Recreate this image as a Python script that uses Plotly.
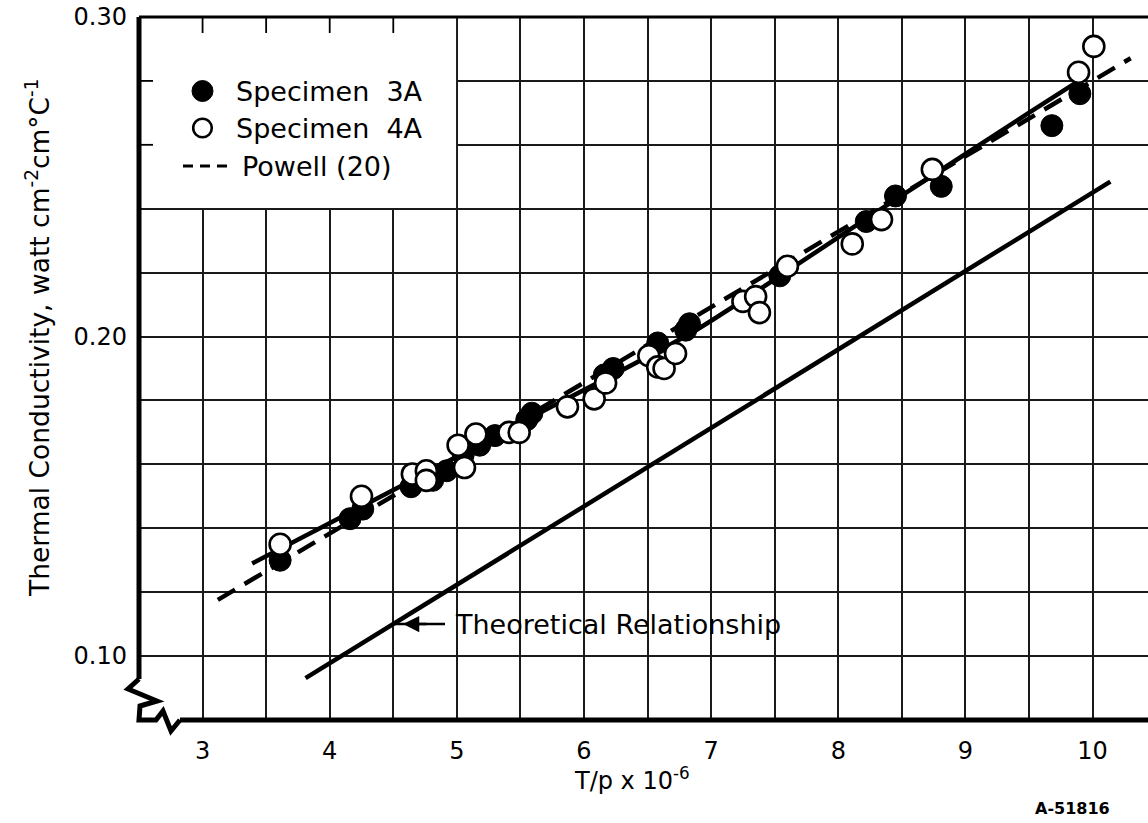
import plotly.graph_objects as go

# ---------------- data ----------------
spec3a_x = [3.61, 4.16, 4.26, 4.64, 4.81, 4.92, 5.05, 5.18, 5.30, 5.55, 5.59, 6.16, 6.23,
            6.58, 6.80, 6.83, 7.54, 8.22, 8.45, 8.81, 9.68, 9.90]
spec3a_y = [0.130, 0.143, 0.146, 0.153, 0.155, 0.158, 0.163, 0.166, 0.169, 0.174, 0.176, 0.188, 0.190,
            0.198, 0.202, 0.204, 0.219, 0.236, 0.244, 0.247, 0.266, 0.276]

spec4a_x = [3.61, 4.25, 4.65, 4.76, 4.76, 5.01, 5.06, 5.15, 5.41, 5.49, 5.87, 6.08, 6.17,
            6.51, 6.58, 6.63, 6.72, 7.25, 7.35, 7.38, 7.60, 8.11, 8.34, 8.74, 9.89, 10.01]
spec4a_y = [0.135, 0.150, 0.157, 0.158, 0.155, 0.166, 0.159, 0.1695, 0.170, 0.170, 0.178, 0.1805, 0.1855,
            0.194, 0.1905, 0.190, 0.1947, 0.211, 0.2125, 0.2075, 0.222, 0.229, 0.2366, 0.2523, 0.2827, 0.2908]

fit_x = [3.39, 4.55, 5.55, 6.86, 8.32, 9.48, 9.95]
fit_y = [0.129, 0.153, 0.174, 0.2015, 0.2395, 0.2695, 0.2815]

powell_x = [3.12, 10.30]
powell_y = [0.1176, 0.2871]

theory_x = [3.81, 10.14]
theory_y = [0.0931, 0.2485]

x_tick_values = [3, 4, 5, 6, 7, 8, 9, 10]
x_tick_labels = ["3", "4", "5", "6", "7", "8", "9", "10"]
y_tick_values = [0.10, 0.20, 0.30]
y_tick_labels = ["0.10", "0.20", "0.30"]

# ---------------- geometry helpers ----------------
W, H = 1148, 823
ML, MR, MT, MB = 139, 0, 17, 103
PW, PH = W - ML - MR, H - MT - MB
X0 = 2.5
Y0, Y1 = 0.08, 0.30
PXX = 127.14                       # pixels per x unit
X1 = X0 + PW / PXX


def xp(xv):            # data x -> paper
    return (xv - X0) / (X1 - X0)


def yp(yv):            # data y -> paper
    return (yv - Y0) / (Y1 - Y0)


def pxp(px):           # screen px -> paper x
    return (px - ML) / PW


def pyp(py):           # screen py -> paper y
    return (H - MB - py) / PH


FONT = "DejaVu Sans"
BLACK = "#000000"

fig = go.Figure()

# lines
fig.add_trace(go.Scatter(x=theory_x, y=theory_y, mode="lines",
                         line=dict(color=BLACK, width=4.5), hoverinfo="skip"))
fig.add_trace(go.Scatter(x=powell_x, y=powell_y, mode="lines",
                         line=dict(color=BLACK, width=4.5, dash="20px,11px"), hoverinfo="skip"))
fig.add_trace(go.Scatter(x=fit_x, y=fit_y, mode="lines",
                         line=dict(color=BLACK, width=4.5, shape="spline", smoothing=0.6),
                         hoverinfo="skip"))

# points
fig.add_trace(go.Scatter(x=spec3a_x, y=spec3a_y, mode="markers", name="Specimen 3A",
                         marker=dict(symbol="circle", size=22, color=BLACK,
                                     line=dict(color=BLACK, width=1))))
fig.add_trace(go.Scatter(x=spec4a_x, y=spec4a_y, mode="markers", name="Specimen 4A",
                         marker=dict(symbol="circle", size=21, color="white",
                                     line=dict(color=BLACK, width=2.6))))

# grid ticks
x_grid = [3 + 0.5 * i for i in range(int((X1 - 3) / 0.5) + 1)]
x_text = [x_tick_labels[x_tick_values.index(v)] if v in x_tick_values else "" for v in x_grid]
y_grid = [round(0.10 + 0.02 * i, 2) for i in range(11)]
y_text = [y_tick_labels[y_tick_values.index(v)] if v in y_tick_values else "" for v in y_grid]

fig.update_layout(
    width=W, height=H,
    margin=dict(l=ML, r=MR, t=MT, b=MB, pad=0),
    paper_bgcolor="white", plot_bgcolor="white",
    showlegend=False,
    font=dict(family=FONT, color=BLACK),
    xaxis=dict(range=[X0, X1], tickmode="array", tickvals=x_grid, ticktext=x_text,
               showgrid=True, gridcolor="#1a1a1a", gridwidth=1.6, zeroline=False,
               showline=False, ticks="", ticklabelstandoff=14,
               tickfont=dict(family=FONT, size=24, color=BLACK)),
    yaxis=dict(range=[Y0, Y1], tickmode="array", tickvals=y_grid, ticktext=y_text,
               showgrid=True, gridcolor="#1a1a1a", gridwidth=1.6, zeroline=False,
               showline=False, ticks="", ticklabelstandoff=11,
               tickfont=dict(family=FONT, size=24, color=BLACK)),
)

P = dict(xref="paper", yref="paper", layer="above")
shapes = []
# legend box (white) covering grid
shapes.append(dict(type="rect", x0=0, x1=xp(5.0) - 0.8 / PW, y0=yp(0.24) + 0.8 / PH, y1=1,
                   fillcolor="white", line=dict(width=0), **P))
# tick stubs along top and left inside legend box
for xv in [3.0, 3.5, 4.0, 4.5]:
    shapes.append(dict(type="line", x0=xp(xv), x1=xp(xv), y0=1, y1=1 - 16 / PH,
                       line=dict(color=BLACK, width=1.8), **P))
for yv in [0.28, 0.26]:
    shapes.append(dict(type="line", x0=0, x1=14 / PW, y0=yp(yv), y1=yp(yv),
                       line=dict(color=BLACK, width=1.8), **P))
# top border
shapes.append(dict(type="line", x0=0, x1=1, y0=1, y1=1,
                   line=dict(color=BLACK, width=3), **P))
# left axis (down to the break)
shapes.append(dict(type="line", x0=0, x1=0, y0=1, y1=41 / PH,
                   line=dict(color=BLACK, width=5), **P))
# bottom axis (from the break)
shapes.append(dict(type="line", x0=41 / PW, x1=1, y0=0, y1=0,
                   line=dict(color=BLACK, width=5), **P))
# break zigzag (pixel offsets from the corner, screen-down positive)
zig = [(0, -41), (-11, -31), (18, -19), (1, -14), (0, 0), (17, 0), (24, -9), (32, 11), (41, 0)]
path = ""
for i, (ddx, ddy) in enumerate(zig):
    path += ("M" if i == 0 else "L") + f"{ddx / PW:.6f},{-ddy / PH:.6f}"
shapes.append(dict(type="path", path=path, line=dict(color=BLACK, width=5), **P))

# legend symbols
rx, ry = 10.5 / PW, 10.5 / PH
lx = pxp(202.5)
ly1, ly2, ly3 = pyp(91), pyp(128), pyp(166)
shapes.append(dict(type="circle", x0=lx - rx, x1=lx + rx, y0=ly1 - ry, y1=ly1 + ry,
                   fillcolor=BLACK, line=dict(color=BLACK, width=1), **P))
shapes.append(dict(type="circle", x0=lx - rx + 1.2 / PW, x1=lx + rx - 1.2 / PW,
                   y0=ly2 - ry + 1.2 / PH, y1=ly2 + ry - 1.2 / PH, fillcolor="white",
                   line=dict(color=BLACK, width=2.6), **P))
shapes.append(dict(type="line", x0=pxp(183), x1=pxp(227), y0=ly3, y1=ly3,
                   line=dict(color=BLACK, width=3, dash="10px,7px"), **P))

# arrow shaft for theoretical relationship label
shapes.append(dict(type="line", x0=pxp(393), x1=pxp(445), y0=pyp(624), y1=pyp(624),
                   line=dict(color=BLACK, width=2.5), **P))

fig.update_layout(shapes=shapes)

ann = []
A = dict(xref="paper", yref="paper", showarrow=False)
ann.append(dict(x=pxp(234), y=ly1, text="Specimen\u00a0\u00a03A", xanchor="left", yanchor="middle",
                font=dict(family=FONT, size=27, color=BLACK), **A))
ann.append(dict(x=pxp(234), y=ly2, text="Specimen\u00a0\u00a04A", xanchor="left", yanchor="middle",
                font=dict(family=FONT, size=27, color=BLACK), **A))
ann.append(dict(x=pxp(240), y=ly3, text="Powell (20)", xanchor="left", yanchor="middle",
                font=dict(family=FONT, size=27, color=BLACK), **A))
ann.append(dict(x=pxp(453), y=pyp(624), text="Theoretical Relationship", xanchor="left",
                yanchor="middle", font=dict(family=FONT, size=27, color=BLACK), **A))
ann.append(dict(x=pxp(403), y=pyp(624), ax=25, ay=0, xref="paper", yref="paper",
                axref="pixel", ayref="pixel", text="", showarrow=True, arrowhead=2,
                arrowsize=1.3, arrowwidth=2.5, arrowcolor=BLACK))
ann.append(dict(x=pxp(38), y=pyp(338),
                text="Thermal Conductivity, watt cm<sup>-2</sup>cm°C<sup>-1</sup>",
                textangle=-90, xanchor="center", yanchor="middle",
                font=dict(family=FONT, size=26.5, color=BLACK), **A))
ann.append(dict(x=pxp(632), y=pyp(779), text="T/p x 10<sup>-6</sup>", xanchor="center",
                yanchor="middle", font=dict(family=FONT, size=24, color=BLACK), **A))
ann.append(dict(x=pxp(1072), y=pyp(808), text="<b>A-51816</b>", xanchor="center",
                yanchor="middle", font=dict(family=FONT, size=16, color=BLACK), **A))
fig.update_layout(annotations=ann)

fig.write_html("out.html")
